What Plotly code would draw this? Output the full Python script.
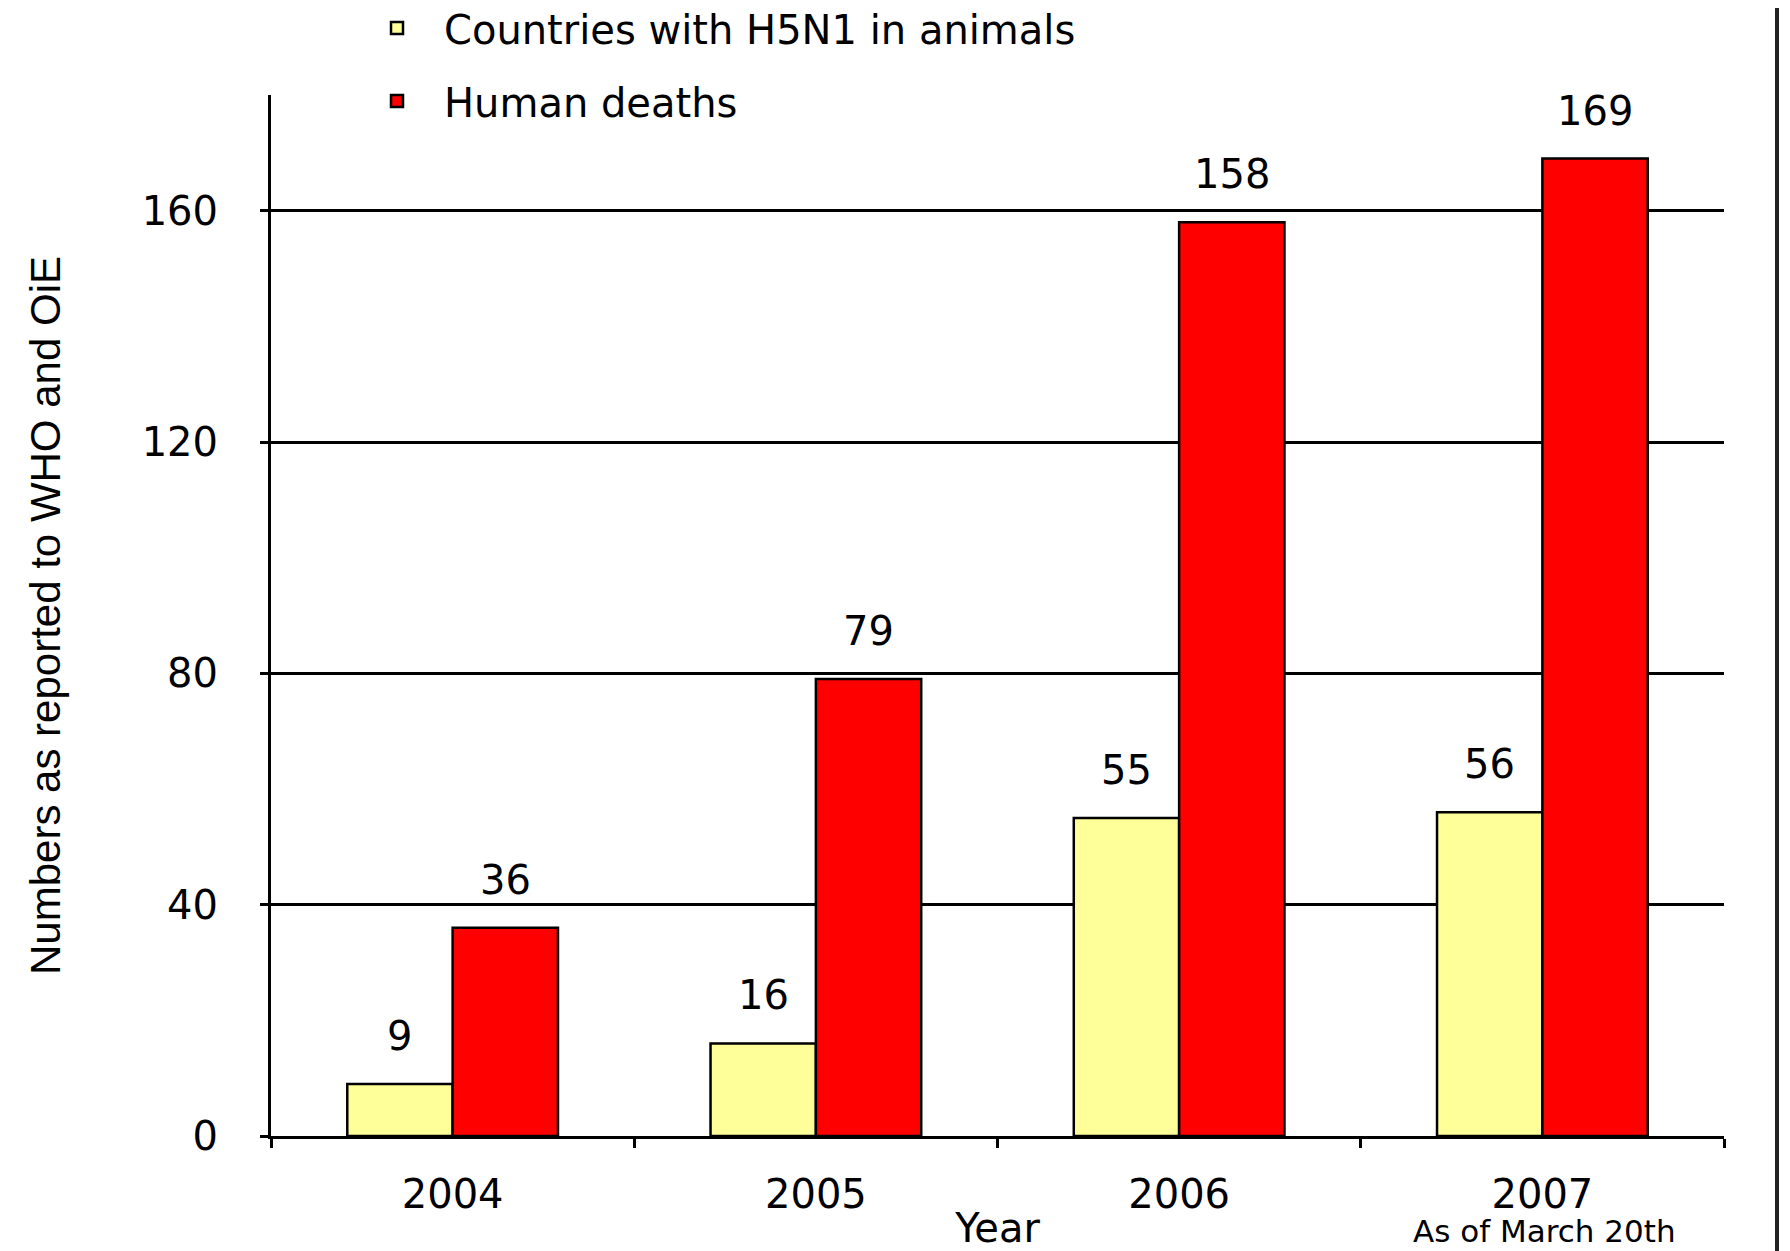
import plotly.graph_objects as go

years = ["2004", "2005", "2006", "2007"]
countries_animals = [9, 16, 55, 56]
human_deaths = [36, 79, 158, 169]
series_names = ["Countries with H5N1 in animals", "Human deaths"]
y_ticks = [0, 40, 80, 120, 160]

# page body has an 8px margin; figure sized to fill the rest of the window
W, H = 1782, 1243
ML, MR, MT, MB = 263, 66, 87, 115
PW, PH = W - ML - MR, H - MT - MB

BARGAP = 0.42
YELLOW = "#FFFF99"
RED = "#FF0000"
FONT = "DejaVu Sans"


def px_x(X):
    return (X - ML) / PW


def px_y(Y):
    return (H - MB - Y) / PH


fig = go.Figure()
fig.add_trace(go.Bar(x=years, y=countries_animals, name=series_names[0],
                     marker=dict(color=YELLOW, line=dict(color="black", width=2.5)),
                     legendgroup="a"))
fig.add_trace(go.Bar(x=years, y=human_deaths, name=series_names[1],
                     marker=dict(color=RED, line=dict(color="black", width=2.5)),
                     legendgroup="b"))

half = (1 - BARGAP) / 4
annotations = []
for i, (a, d) in enumerate(zip(countries_animals, human_deaths)):
    for off, v in ((-half, a), (half, d)):
        annotations.append(dict(x=i + off, y=v, xref="x", yref="y", text=str(v),
                                showarrow=False, yanchor="middle", yshift=48,
                                font=dict(family=FONT, size=40, color="black")))

annotations.append(dict(x=px_x(1404), y=px_y(1223), xref="paper", yref="paper",
                        text="As of March 20th", showarrow=False, xanchor="left", yanchor="middle",
                        borderpad=0,
                        font=dict(family=FONT, size=31, color="black")))

fig.update_layout(
    width=W, height=H,
    margin=dict(l=ML, r=MR, t=MT, b=MB, autoexpand=False),
    paper_bgcolor="white", plot_bgcolor="white",
    barmode="group", bargap=BARGAP, bargroupgap=0,
    font=dict(family=FONT, size=40, color="black"),
    showlegend=True,
    legend=dict(x=px_x(342), y=1 + (MT + 12.5) / PH, xanchor="left", yanchor="top",
                font=dict(family=FONT, size=40, color="black"), itemwidth=84,
                tracegroupgap=18, bgcolor="rgba(0,0,0,0)", traceorder="grouped"),
    annotations=annotations,
    shapes=[dict(type="line", xref="paper", yref="paper",
                 x0=px_x(1769), x1=px_x(1769), y0=px_y(-10), y1=px_y(H + 10),
                 line=dict(color="#222222", width=4))],
)

fig.update_xaxes(
    type="category", showline=True, linecolor="black", linewidth=3,
    ticks="outside", tickson="boundaries", ticklen=9, tickwidth=3, tickcolor="black",
    ticklabelstandoff=21, showgrid=False,
    tickfont=dict(family=FONT, size=40, color="black"),
    title=dict(text="Year", standoff=25, font=dict(family=FONT, size=40, color="black")),
    range=[-0.5, 3.5],
)
fig.update_yaxes(
    range=[0, 180], tickvals=y_ticks, showline=True, linecolor="black", linewidth=3,
    ticks="outside", ticklen=8, tickwidth=3, tickcolor="black",
    showgrid=True, gridcolor="black", gridwidth=2.5, zeroline=False,
    ticklabelstandoff=34,
    tickfont=dict(family=FONT, size=40, color="black"),
    title=dict(text="Numbers as reported to WHO and OiE", standoff=68,
               font=dict(family="Liberation Sans", size=42, color="black")),
)

fig.write_html("out.html")
